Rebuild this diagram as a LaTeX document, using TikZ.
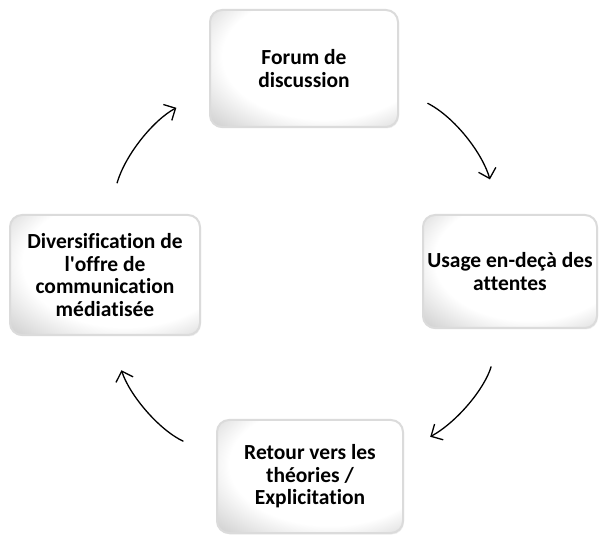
\documentclass[tikz,border=0pt]{standalone}
\usepackage{fontspec}
\setmainfont{Carlito}[Ligatures={NoCommon}]
\usetikzlibrary{arrows.meta,shadows}
\pgfdeclareradialshading{boxshade}{\pgfpoint{8bp}{8bp}}{color(0bp)=(white); color(27bp)=(white); color(47bp)=(black!28); color(80bp)=(black!34)}
\begin{document}
\begin{tikzpicture}[x=1pt, y=1pt,
  every node/.style={rounded corners=12pt, draw=black!14, line width=2pt, shading=boxshade,
    drop shadow={opacity=0.12, shadow xshift=1pt, shadow yshift=-1.5pt},
    align=center, font=\fontsize{21.5}{22.5}\selectfont\bfseries, inner sep=0pt},
  fleche/.style={line width=1.3pt, -{Straight Barb[length=9pt, width=18pt]}}]
\useasboundingbox (0,0) rectangle (599,535);
\node[minimum width=188pt, minimum height=117pt] (forum) at (304,466.5) {Forum de\\discussion};
\node[minimum width=174pt, minimum height=113pt] (usage) at (510,263.5) {Usage en-deçà des\\attentes};
\node[minimum width=186pt, minimum height=113pt] (retour) at (310,58.5) {Retour vers les\\théories /\\Explicitation};
\node[minimum width=190pt, minimum height=120pt] (divers) at (105,260) {Diversification de\\l\textquotesingle offre de\\communication\\médiatisée};

\draw[fleche, shorten <=32pt, shorten >=36pt] (forum.-12) to[out=-27, in=106] (usage.100);
\draw[fleche, shorten <=39pt, shorten >=30pt] (usage.-98) to[out=-106, in=29] (retour.15);
\draw[fleche, shorten <=36pt, shorten >=36pt] (retour.168) to[out=155, in=-72] (divers.-85);
\draw[fleche, shorten <=32pt, shorten >=37pt] (divers.87) to[out=74, in=208] (forum.193);
\end{tikzpicture}
\end{document}
